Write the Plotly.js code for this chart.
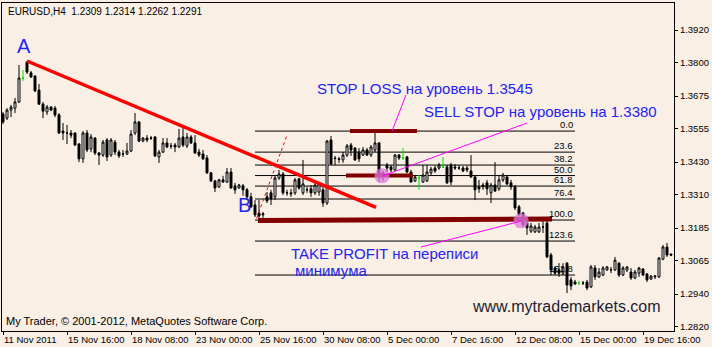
<!DOCTYPE html>
<html>
<head>
<meta charset="utf-8">
<script src="https://cdn.plot.ly/plotly-3.0.1.min.js"></script>
<style>html,body{margin:0;padding:0;background:#F9EFE4;}#chart{width:712px;height:347px;}</style>
</head>
<body>
<div id="chart"></div>
<script>
// ---- candle data (EURUSD, H4), one value per bar ----
const open = [
1.3608,1.3593,1.3623,1.3630,1.3653,1.3742,1.3801,1.3761,1.3749,1.3697,
1.3645,1.3616,1.3634,1.3630,1.3605,1.3545,1.3538,1.3538,1.3538,1.3497,
1.3442,1.3538,1.3479,1.3519,1.3464,1.3456,1.3512,1.3456,1.3504,1.3467,
1.3460,1.3460,1.3471,1.3538,1.3579,1.3508,1.3519,1.3519,1.3523,1.3449,
1.3467,1.3501,1.3490,1.3493,1.3486,1.3523,1.3490,1.3523,1.3501,1.3467,
1.3460,1.3445,1.3390,1.3360,1.3338,1.3364,1.3356,1.3393,1.3342,1.3334,
1.3342,1.3327,1.3301,1.3271,1.3241,1.3234,1.3301,1.3316,1.3301,1.3371,
1.3386,1.3316,1.3316,1.3316,1.3368,1.3316,1.3327,1.3331,1.3316,1.3319,
1.3327,1.3278,1.3512,1.3445,1.3442,1.3438,1.3456,1.3493,1.3482,1.3467,
1.3456,1.3475,1.3456,1.3475,1.3501,1.3390,1.3419,1.3412,1.3401,1.3456,
1.3445,1.3449,1.3393,1.3360,1.3371,1.3356,1.3360,1.3390,1.3408,1.3408,
1.3412,1.3412,1.3419,1.3412,1.3408,1.3408,1.3408,1.3397,1.3375,1.3338,
1.3345,1.3353,1.3316,1.3345,1.3331,1.3364,1.3375,1.3353,1.3338,1.3264,
1.3241,1.3204,1.3174,1.3171,1.3171,1.3189,1.3204,1.3085,1.3037,1.3030,
1.3018,1.3055,1.2993,1.2985,1.2981,1.2981,1.2985,1.2967,1.3037,1.3004,
1.3011,1.3030,1.3030,1.3030,1.3055,1.3011,1.3030,1.3022,1.3000,1.3018,
1.3033,1.3015,1.2996,1.3004,1.3004,1.3070,1.3115,1.3089];
const high = [
1.3616,1.3630,1.3642,1.3668,1.3790,1.3772,1.3805,1.3768,1.3753,1.3720,
1.3653,1.3642,1.3638,1.3638,1.3612,1.3575,1.3568,1.3549,1.3540,1.3501,
1.3545,1.3549,1.3534,1.3523,1.3467,1.3512,1.3519,1.3519,1.3512,1.3475,
1.3475,1.3501,1.3549,1.3612,1.3582,1.3523,1.3530,1.3527,1.3527,1.3475,
1.3519,1.3519,1.3501,1.3501,1.3553,1.3560,1.3538,1.3530,1.3530,1.3479,
1.3475,1.3456,1.3393,1.3364,1.3368,1.3379,1.3408,1.3408,1.3353,1.3349,
1.3349,1.3334,1.3316,1.3289,1.3289,1.3245,1.3319,1.3327,1.3382,1.3401,
1.3393,1.3327,1.3331,1.3371,1.3371,1.3438,1.3338,1.3345,1.3356,1.3356,
1.3338,1.3512,1.3527,1.3453,1.3449,1.3467,1.3497,1.3501,1.3486,1.3482,
1.3486,1.3482,1.3493,1.3538,1.3504,1.3397,1.3427,1.3419,1.3460,1.3460,
1.3482,1.3453,1.3401,1.3382,1.3382,1.3419,1.3419,1.3412,1.3416,1.3427,
1.3449,1.3419,1.3427,1.3423,1.3419,1.3416,1.3416,1.3456,1.3382,1.3364,
1.3353,1.3364,1.3353,1.3430,1.3382,1.3390,1.3382,1.3364,1.3345,1.3271,
1.3245,1.3215,1.3204,1.3197,1.3204,1.3223,1.3219,1.3093,1.3044,1.3055,
1.3055,1.3059,1.3004,1.2993,1.2989,1.2989,1.2993,1.3048,1.3048,1.3037,
1.3044,1.3044,1.3041,1.3078,1.3059,1.3044,1.3044,1.3037,1.3030,1.3041,
1.3037,1.3018,1.3011,1.3011,1.3078,1.3122,1.3130,1.3089];
const low = [
1.3571,1.3586,1.3597,1.3612,1.3649,1.3731,1.3757,1.3742,1.3690,1.3642,
1.3593,1.3605,1.3619,1.3597,1.3534,1.3512,1.3497,1.3519,1.3490,1.3430,
1.3427,1.3467,1.3467,1.3456,1.3419,1.3449,1.3434,1.3449,1.3456,1.3445,
1.3449,1.3456,1.3467,1.3530,1.3504,1.3504,1.3504,1.3512,1.3449,1.3427,
1.3464,1.3482,1.3479,1.3467,1.3482,1.3486,1.3482,1.3497,1.3460,1.3449,
1.3438,1.3386,1.3356,1.3319,1.3334,1.3353,1.3353,1.3331,1.3312,1.3331,
1.3305,1.3293,1.3260,1.3226,1.3215,1.3223,1.3278,1.3271,1.3289,1.3364,
1.3308,1.3305,1.3301,1.3308,1.3327,1.3308,1.3316,1.3301,1.3308,1.3305,
1.3264,1.3271,1.3419,1.3419,1.3427,1.3427,1.3449,1.3453,1.3434,1.3430,
1.3453,1.3453,1.3449,1.3467,1.3356,1.3360,1.3393,1.3393,1.3397,1.3438,
1.3438,1.3390,1.3354,1.3356,1.3327,1.3353,1.3356,1.3382,1.3390,1.3401,
1.3408,1.3349,1.3345,1.3401,1.3401,1.3393,1.3393,1.3371,1.3289,1.3316,
1.3327,1.3308,1.3278,1.3319,1.3323,1.3356,1.3345,1.3327,1.3252,1.3230,
1.3189,1.3160,1.3167,1.3167,1.3167,1.3167,1.3074,1.3011,1.3011,1.3004,
1.3011,1.2944,1.2955,1.2974,1.2974,1.2974,1.2955,1.2963,1.2993,1.3000,
1.3007,1.3026,1.3018,1.3026,1.3004,1.3007,1.3022,1.2993,1.2996,1.3004,
1.3007,1.2985,1.2993,1.2996,1.3000,1.3066,1.3078,1.3081];
const close = [
1.3579,1.3623,1.3634,1.3653,1.3742,1.3742,1.3764,1.3746,1.3694,1.3645,
1.3619,1.3634,1.3623,1.3605,1.3538,1.3538,1.3538,1.3530,1.3493,1.3442,
1.3538,1.3475,1.3523,1.3464,1.3456,1.3504,1.3449,1.3512,1.3467,1.3453,
1.3460,1.3471,1.3534,1.3579,1.3508,1.3519,1.3512,1.3519,1.3453,1.3467,
1.3501,1.3486,1.3490,1.3486,1.3519,1.3493,1.3523,1.3501,1.3464,1.3456,
1.3442,1.3390,1.3360,1.3334,1.3364,1.3356,1.3393,1.3334,1.3327,1.3345,
1.3327,1.3301,1.3264,1.3234,1.3230,1.3238,1.3286,1.3293,1.3371,1.3386,
1.3316,1.3316,1.3312,1.3364,1.3334,1.3349,1.3327,1.3316,1.3345,1.3349,
1.3278,1.3508,1.3423,1.3443,1.3440,1.3456,1.3490,1.3475,1.3438,1.3442,
1.3475,1.3456,1.3486,1.3501,1.3375,1.3375,1.3408,1.3401,1.3456,1.3445,
1.3445,1.3393,1.3356,1.3375,1.3371,1.3382,1.3393,1.3404,1.3397,1.3419,
1.3412,1.3353,1.3356,1.3408,1.3408,1.3397,1.3401,1.3375,1.3327,1.3331,
1.3338,1.3331,1.3345,1.3323,1.3364,1.3382,1.3349,1.3338,1.3260,1.3234,
1.3197,1.3186,1.3193,1.3189,1.3189,1.3189,1.3078,1.3030,1.3018,1.3018,
1.3041,1.2974,1.2970,1.2978,1.2981,1.2981,1.2963,1.3041,1.3004,1.3022,
1.3037,1.3041,1.3030,1.3066,1.3011,1.3037,1.3041,1.3000,1.3022,1.3037,
1.3011,1.2993,1.3007,1.3007,1.3074,1.3115,1.3085,1.3085];
// bars drawn with a green doji cross
const greenBars = [5, 100, 104, 110, 144];

// ---- axis ticks ----
const xTickBars = [0,16,32,48,64,80,96,112,128,144,160];
const xTickLabels = ['11 Nov 2011','15 Nov 16:00','18 Nov 08:00','23 Nov 00:00','25 Nov 16:00',
  '30 Nov 08:00','5 Dec 00:00','7 Dec 16:00','12 Dec 08:00','15 Dec 00:00','19 Dec 16:00'];
const yTickVals = [1.3920,1.3800,1.3675,1.3555,1.3430,1.3310,1.3185,1.3065,1.2940,1.2820];

// ---- drawn objects (prices / bars) ----
const fibLabels = ['0.0','23.6','38.2','50.0','61.8','76.4','100.0','123.6','161.8'];
const fibPrices = [1.3545,1.3467,1.3419,1.3380,1.3341,1.3293,1.3215,1.3137,1.3011];
const fibBars = [63, 143];
const trendBars = [6, 93.25];
const trendPrices = [1.3805, 1.3262];
const fibDashBars = [63.4, 71];
const fibDashPrices = [1.3221, 1.3530];
const stopLoss = 1.3545, stopLossBars = [86.75, 103.5];
const sellStop = 1.3380, sellStopBars = [85.75, 102.5];
const takeProfitPrices = [1.3213, 1.3219], takeProfitBars = [63.75, 137.25];
const slPointerBars = [100.75, 97.25], slPointerPrices = [1.3679, 1.3545];
const ssPointerBars = [94.75, 131], ssPointerPrices = [1.3378, 1.3575];
const tpPointerBars = [104.5, 129.5], tpPointerPrices = [1.3115, 1.3211];
const markerBars = [94.75, 129.5], markerPrices = [1.3379, 1.3212];

const bars = open.map((_, i) => i);
const FONT = 'Liberation Sans, Arial, sans-serif';
const BLUE = '#2424F2';

function pick(arr, keep) { return arr.filter((_, i) => keep(i)); }
const isGreen = i => greenBars.includes(i);

function candle(keep, color, fillUp, fillDown) {
  return {
    type: 'candlestick', x: pick(bars, keep), open: pick(open, keep), high: pick(high, keep),
    low: pick(low, keep), close: pick(close, keep), whiskerwidth: 0, hoverinfo: 'skip',
    increasing: {line: {color: color, width: 1}, fillcolor: fillUp},
    decreasing: {line: {color: color, width: 1}, fillcolor: fillDown},
    showlegend: false
  };
}

const traces = [
  candle(i => !isGreen(i), '#000000', '#FFFFFF', '#000000'),
  candle(isGreen, '#00E000', '#00E000', '#00E000'),
  {type: 'scatter', mode: 'lines', x: fibDashBars, y: fibDashPrices, line: {color: '#FF0000', width: 1, dash: 'dot'}, hoverinfo: 'skip', showlegend: false},
  {type: 'scatter', mode: 'lines', x: trendBars, y: trendPrices, line: {color: '#FF0000', width: 3.5}, hoverinfo: 'skip', showlegend: false},
  {type: 'scatter', mode: 'lines', x: takeProfitBars, y: takeProfitPrices, line: {color: '#800000', width: 5}, hoverinfo: 'skip', showlegend: false},
  {type: 'scatter', mode: 'lines', x: stopLossBars, y: [stopLoss, stopLoss], line: {color: '#800000', width: 4}, hoverinfo: 'skip', showlegend: false},
  {type: 'scatter', mode: 'lines', x: sellStopBars, y: [sellStop, sellStop], line: {color: '#800000', width: 4}, hoverinfo: 'skip', showlegend: false},
  {type: 'scatter', mode: 'markers', x: markerBars, y: markerPrices, marker: {size: 15, color: 'rgba(226,120,226,0.75)', line: {width: 0}}, hoverinfo: 'skip', showlegend: false},
  {type: 'scatter', mode: 'lines', x: slPointerBars, y: slPointerPrices, line: {color: '#FF00FF', width: 1}, hoverinfo: 'skip', showlegend: false},
  {type: 'scatter', mode: 'lines', x: ssPointerBars, y: ssPointerPrices, line: {color: '#FF00FF', width: 1}, hoverinfo: 'skip', showlegend: false},
  {type: 'scatter', mode: 'lines', x: tpPointerBars, y: tpPointerPrices, line: {color: '#FF00FF', width: 1}, hoverinfo: 'skip', showlegend: false}
];

// plot area in pixels: left 2, right 674, top 3, bottom 331
const L = 2, R = 674, T = 3, B = 331;
const px = x => (x - L) / (R - L);
const py = y => (B - y) / (B - T);

const shapes = fibPrices.map(p => ({type: 'line', layer: 'below', xref: 'x', yref: 'y',
  x0: fibBars[0], x1: fibBars[1], y0: p, y1: p, line: {color: '#000000', width: 1}}));

const annotations = [];
fibLabels.forEach((t, k) => annotations.push({xref: 'x', yref: 'y', x: fibBars[1], y: fibPrices[k],
  text: t, showarrow: false, xanchor: 'right', yanchor: 'bottom', yshift: -1, font: {family: FONT, size: 9.5, color: '#000'}}));
xTickBars.forEach((b, k) => annotations.push({xref: 'x', yref: 'paper', x: b, y: py(339),
  text: xTickLabels[k], showarrow: false, xanchor: 'left', yanchor: 'middle', xshift: -1, font: {family: FONT, size: 9.5, color: '#000'}}));

function txt(t, x, y, size, color, anchor) {
  annotations.push({xref: 'paper', yref: 'paper', x: px(x), y: py(y), text: t, showarrow: false,
    xanchor: anchor || 'left', yanchor: 'middle', font: {family: FONT, size: size, color: color}});
}
txt('EURUSD,H4  1.2309 1.2314 1.2262 1.2291', 6, 11, 10, '#000');
txt('A', 15, 46, 20, BLUE);
txt('B', 236, 205, 20, BLUE);
txt('STOP LOSS на уровень 1.3545', 315, 88, 15, BLUE);
txt('SELL STOP на уровень на 1.3380', 422, 112, 15, BLUE);
txt('TAKE PROFIT на переписи', 289, 253, 15, BLUE);
txt('минимума', 293, 270, 15, BLUE);
txt('www.mytrademarkets.com', 470, 306, 16, '#1E1E30');
txt('My Trader, © 2001-2012, MetaQuotes Software Corp.', 4, 321, 11, '#000');

const layout = {
  width: 712, height: 347,
  margin: {l: L, r: 712 - R, t: T, b: 347 - B, pad: 0},
  paper_bgcolor: '#F9EFE4', plot_bgcolor: '#F9EFE4',
  showlegend: false,
  xaxis: {range: [-0.25, 167.75], showgrid: false, zeroline: false, showline: true, mirror: true,
    linecolor: '#000', linewidth: 1, ticks: 'outside', ticklen: 3, tickcolor: '#000',
    tickvals: xTickBars, showticklabels: false, rangeslider: {visible: false}, fixedrange: true},
  yaxis: {side: 'right', range: [1.28033, 1.40202], showgrid: false, zeroline: false, showline: true, mirror: true,
    linecolor: '#000', linewidth: 1, ticks: 'outside', ticklen: 3, tickcolor: '#000',
    tickvals: yTickVals, ticktext: yTickVals.map(v => v.toFixed(4)),
    tickfont: {family: FONT, size: 9.5, color: '#000'}, fixedrange: true},
  shapes: shapes,
  annotations: annotations
};

Plotly.newPlot('chart', traces, layout, {staticPlot: true, displayModeBar: false});
</script>
</body>
</html>
